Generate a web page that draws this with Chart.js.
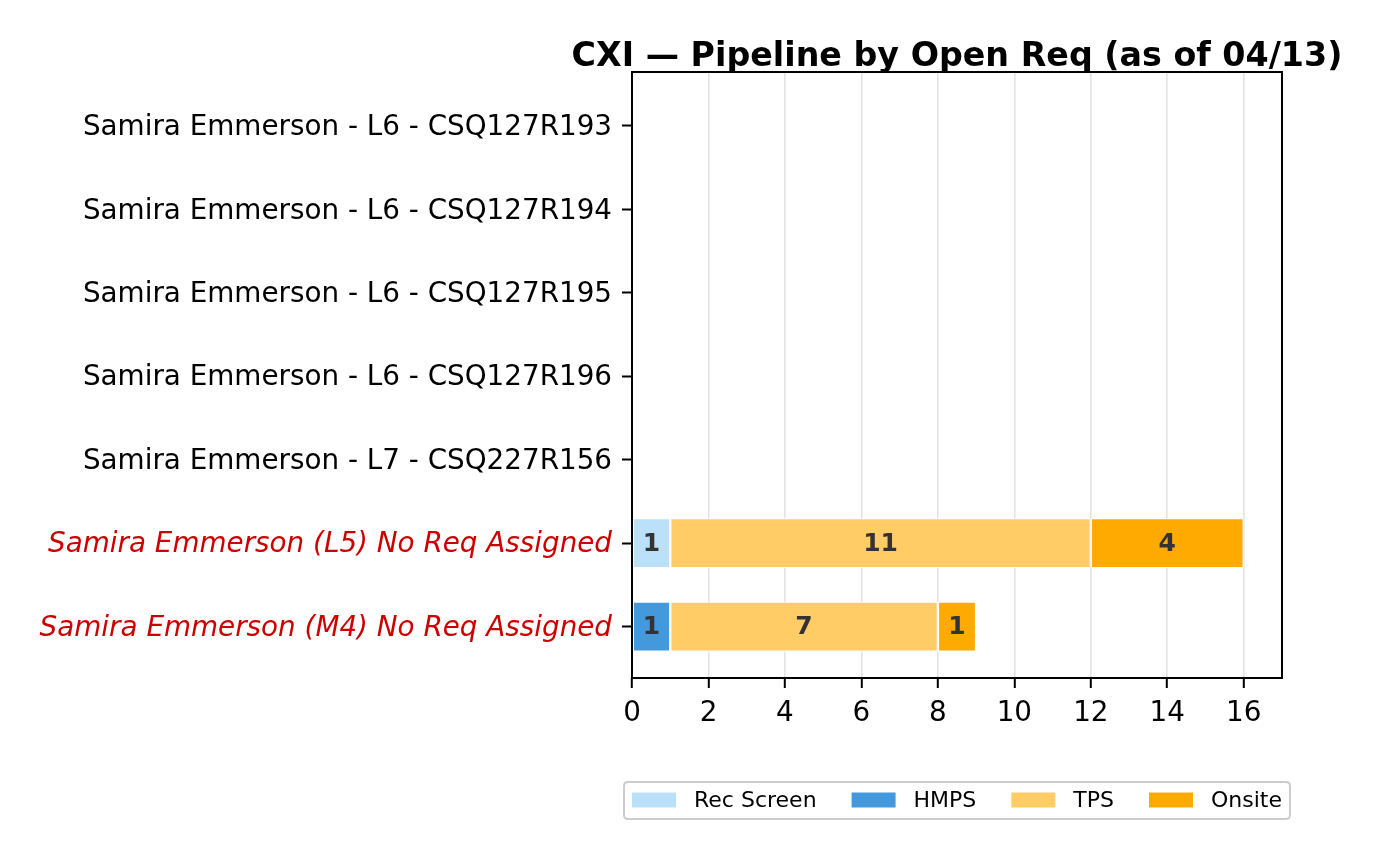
<!DOCTYPE html>
<html>
<head>
<meta charset="utf-8">
<script src="https://cdn.jsdelivr.net/npm/chart.js@4/dist/chart.umd.min.js"></script>
<style>
  html, body { margin: 0; padding: 0; background: #ffffff; }
  #wrap { width: 1382px; height: 859px; position: relative; }
</style>
</head>
<body>
<div id="wrap"><canvas id="c" width="1382" height="859"></canvas></div>
<script>
// ---- data ----
const categories = [
  "Samira Emmerson - L6 - CSQ127R193",
  "Samira Emmerson - L6 - CSQ127R194",
  "Samira Emmerson - L6 - CSQ127R195",
  "Samira Emmerson - L6 - CSQ127R196",
  "Samira Emmerson - L7 - CSQ227R156",
  "Samira Emmerson (L5) No Req Assigned",
  "Samira Emmerson (M4) No Req Assigned"
];
const noReqFlags = [false, false, false, false, false, true, true];
const seriesNames = ["Rec Screen", "HMPS", "TPS", "Onsite"];
const recScreen = [0, 0, 0, 0, 0, 1, 0];
const hmps      = [0, 0, 0, 0, 0, 0, 1];
const tps       = [0, 0, 0, 0, 0, 11, 7];
const onsite    = [0, 0, 0, 0, 0, 4, 1];
const xTicks = [0, 2, 4, 6, 8, 10, 12, 14, 16];
const titleText = "CXI \u2014 Pipeline by Open Req (as of 04/13)";

const colors = ["#BBE1FA", "#4499DD", "#FFCC66", "#FFAA00"];
const FONT = "'DejaVu Sans', 'Liberation Sans', sans-serif";

function toPoints(arr) { return arr.map((v, i) => ({ x: v, y: i })); }

const seriesValues = [recScreen, hmps, tps, onsite];
const datasets = seriesNames.map((name, k) => ({
  label: name,
  data: toPoints(seriesValues[k]),
  backgroundColor: colors[k],
  borderColor: "#ffffff",
  borderWidth: 1.2,
  borderSkipped: false,
  categoryPercentage: 1.0,
  barPercentage: 0.6
}));

// ---- plugins ----
const frameAndLabels = {
  id: "frameAndLabels",
  afterDatasetsDraw(chart) {
    const ctx = chart.ctx;
    // bar value labels
    ctx.save();
    ctx.font = "bold 25px " + FONT;
    ctx.fillStyle = "#333333";
    ctx.textAlign = "center";
    ctx.textBaseline = "middle";
    chart.data.datasets.forEach((ds, di) => {
      const meta = chart.getDatasetMeta(di);
      meta.data.forEach((bar, i) => {
        const v = ds.data[i].x;
        if (v > 0) {
          const cx = (bar.x + bar.base) / 2;
          ctx.fillText(String(v), cx, bar.y + 1);
        }
      });
    });
    ctx.restore();
    // frame
    const a = chart.chartArea;
    ctx.save();
    ctx.strokeStyle = "#000000";
    ctx.lineWidth = 2;
    ctx.strokeRect(a.left, a.top, a.right - a.left, a.bottom - a.top);
    ctx.restore();
  },
  afterDraw(chart) {
    const ctx = chart.ctx;
    const a = chart.chartArea;
    const cx = (a.left + a.right) / 2;
    // title
    ctx.save();
    ctx.font = "bold 33.3px " + FONT;
    ctx.fillStyle = "#000000";
    ctx.textAlign = "center";
    ctx.textBaseline = "alphabetic";
    ctx.fillText(titleText, cx, a.top - 6);
    ctx.restore();
    // legend box below the axes
    ctx.save();
    const fs = 22;
    ctx.font = fs + "px " + FONT;
    const handle = 44, hpad = 18, colGap = 35, border = 8;
    const items = chart.data.datasets.map(ds => ({ label: ds.label, color: ds.backgroundColor, w: ctx.measureText(ds.label).width }));
    let total = 0;
    items.forEach((it, i) => { total += handle + hpad + it.w + (i < items.length - 1 ? colGap : 0); });
    const boxW = total + 2 * border;
    const boxH = 37;
    const bx = cx - boxW / 2, by = 782;
    ctx.beginPath();
    const r = 4;
    ctx.moveTo(bx + r, by);
    ctx.lineTo(bx + boxW - r, by);
    ctx.quadraticCurveTo(bx + boxW, by, bx + boxW, by + r);
    ctx.lineTo(bx + boxW, by + boxH - r);
    ctx.quadraticCurveTo(bx + boxW, by + boxH, bx + boxW - r, by + boxH);
    ctx.lineTo(bx + r, by + boxH);
    ctx.quadraticCurveTo(bx, by + boxH, bx, by + boxH - r);
    ctx.lineTo(bx, by + r);
    ctx.quadraticCurveTo(bx, by, bx + r, by);
    ctx.closePath();
    ctx.fillStyle = "rgba(255,255,255,0.8)";
    ctx.fill();
    ctx.strokeStyle = "#cccccc";
    ctx.lineWidth = 2;
    ctx.stroke();
    let x = bx + border;
    const midY = by + boxH / 2;
    ctx.textBaseline = "middle";
    ctx.textAlign = "left";
    items.forEach(it => {
      ctx.fillStyle = it.color;
      ctx.fillRect(x, midY - 8, handle, 15);
      x += handle + hpad;
      ctx.fillStyle = "#000000";
      ctx.fillText(it.label, x, midY + 1);
      x += it.w + colGap;
    });
    ctx.restore();
  }
};

Chart.defaults.font.family = FONT;
Chart.defaults.color = "#000000";

new Chart(document.getElementById("c"), {
  type: "bar",
  data: { datasets },
  options: {
    indexAxis: "y",
    responsive: false,
    animation: false,
    devicePixelRatio: 1,
    layout: { padding: { left: 0, right: 100, top: 72, bottom: 0 } },
    plugins: {
      legend: { display: false },
      tooltip: { enabled: false },
      title: { display: false }
    },
    scales: {
      x: {
        type: "linear",
        stacked: true,
        min: 0,
        max: 17,
        afterBuildTicks(scale) { scale.ticks = xTicks.map(v => ({ value: v })); },
        afterFit(scale) { scale.height = 181; },
        ticks: { font: { size: 27.8, family: FONT }, color: "#000000", padding: 9, maxRotation: 0 },
        grid: { color: "#e3e3e3", lineWidth: 1.6, tickColor: "#000000", tickLength: 10, tickWidth: 2, drawTicks: true },
        border: { display: false }
      },
      y: {
        type: "linear",
        stacked: true,
        reverse: true,
        offset: false,
        min: -0.645,
        max: 6.615,
        afterBuildTicks(scale) { scale.ticks = categories.map((c, i) => ({ value: i })); },
        afterFit(scale) { scale.width = 632; },
        ticks: {
          callback: (v) => categories[v],
          font: (ctx) => ({ size: 27.8, family: FONT, style: noReqFlags[ctx.index] ? "italic" : "normal" }),
          color: (ctx) => noReqFlags[ctx.index] ? "#CC0000" : "#000000",
          padding: 10,
          labelOffset: 2
        },
        grid: { offset: false, drawOnChartArea: false, drawTicks: true, tickLength: 10, tickColor: "#000000", tickWidth: 2 },
        border: { display: false }
      }
    }
  },
  plugins: [frameAndLabels]
});
</script>
</body>
</html>
